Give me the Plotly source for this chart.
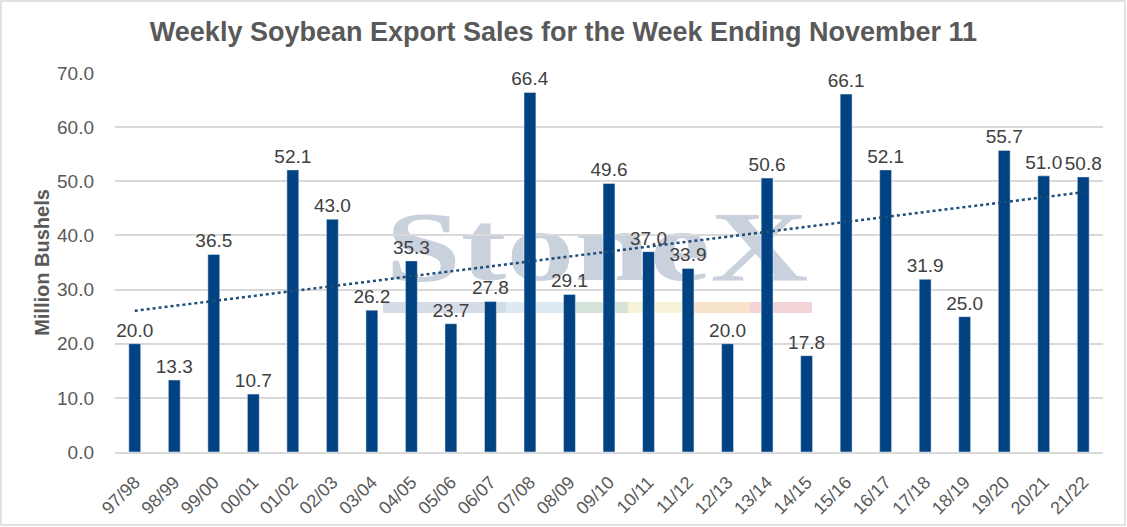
import base64
import numpy as np
import plotly.graph_objects as go

seasons = ["97/98", "98/99", "99/00", "00/01", "01/02", "02/03", "03/04", "04/05",
           "05/06", "06/07", "07/08", "08/09", "09/10", "10/11", "11/12", "12/13",
           "13/14", "14/15", "15/16", "16/17", "17/18", "18/19", "19/20", "20/21", "21/22"]
sales = [20.0, 13.3, 36.5, 10.7, 52.1, 43.0, 26.2, 35.3, 23.7, 27.8, 66.4, 29.1,
         49.6, 37.0, 33.9, 20.0, 50.6, 17.8, 66.1, 52.1, 31.9, 25.0, 55.7, 51.0, 50.8]

# linear trend like Excel's trendline
idx = np.arange(len(sales))
slope, icpt = np.polyfit(idx, sales, 1)
trend = slope * idx + icpt

W, H = 1127, 527
ML, MR, MT, MB = 115, 24, 73, 75
PW, PH = W - ML - MR, H - MT - MB


def px(x):
    return (x - ML) / PW


def py(y):
    return (H - y - MB) / PH


fig = go.Figure()
fig.add_trace(go.Bar(
    x=seasons, y=sales, marker_color="#004282",
    text=[f"{v:.1f}" for v in sales], textposition="outside", cliponaxis=False,
    constraintext="none",
    textfont=dict(size=19, color="#404040"), hoverinfo="x+y",
))
fig.add_trace(go.Scatter(
    x=seasons, y=trend, mode="lines",
    line=dict(color="#1f4e79", width=2.5, dash="dot"), hoverinfo="skip",
))

shapes = [dict(type="rect", xref="paper", yref="paper",
               x0=px(1), x1=px(W - 2), y0=py(H - 2), y1=py(1),
               line=dict(color="#d9d9d9", width=1.5), fillcolor="rgba(0,0,0,0)")]

# watermark colour strip
strip = [(383, 506, "#d5dce6"), (506, 576, "#dde9f3"), (576, 628, "#d5e3d8"),
         (628, 682, "#f7f3d8"), (682, 750, "#f7e3cc"), (750, 812, "#f2d4d6")]
for a, b, c in strip:
    shapes.append(dict(type="rect", xref="paper", yref="paper", layer="below",
                       x0=px(a), x1=px(b), y0=py(313), y1=py(302),
                       fillcolor=c, line=dict(width=0)))

# watermark text as an svg image so it sits behind the bars
svg = ('<svg xmlns="http://www.w3.org/2000/svg" width="435" height="95" viewBox="0 0 435 95">'
       '<text x="217" y="80" text-anchor="middle" font-family="Liberation Serif" '
       'font-weight="bold" font-size="100" fill="#c9d1dc" textLength="423" '
       'lengthAdjust="spacingAndGlyphs">StoneX</text></svg>')
wm = "data:image/svg+xml;base64," + base64.b64encode(svg.encode()).decode()

fig.update_layout(
    width=W, height=H,
    margin=dict(l=ML, r=MR, t=MT, b=MB),
    paper_bgcolor="white", plot_bgcolor="white",
    showlegend=False, bargap=0.7,
    font=dict(family="Liberation Sans, Arial, sans-serif", color="#595959"),
    title=dict(text="<b>Weekly Soybean Export Sales for the Week Ending November 11</b>",
               x=0.5, xref="container", xanchor="center", y=0.94, yanchor="middle",
               font=dict(size=27, color="#595959")),
    shapes=shapes,
    images=[dict(source=wm, xref="paper", yref="paper", x=px(380), y=py(200),
                 sizex=px(815) - px(380), sizey=py(200) - py(295),
                 xanchor="left", yanchor="top", sizing="stretch", layer="below")],
)
fig.update_xaxes(tickangle=-45, tickfont=dict(size=18, color="#595959"),
                 showgrid=False, showline=True, linecolor="#d9d9d9", linewidth=1.5,
                 ticks="", automargin=False, ticklabelstandoff=11)
fig.update_yaxes(range=[0, 70], dtick=10, tickformat=".1f",
                 tickfont=dict(size=19, color="#595959"),
                 showgrid=True, gridcolor="#d9d9d9", gridwidth=1.5, zeroline=False,
                 automargin=False, ticklabelstandoff=20,
                 title=dict(text="<b>Million Bushels</b>", font=dict(size=20, color="#595959"),
                            standoff=2))

# drop the page's default body margin so the chart fills the window
fig.write_html("out.html", config={"displayModeBar": False},
               post_script="document.body.style.margin='0';")
